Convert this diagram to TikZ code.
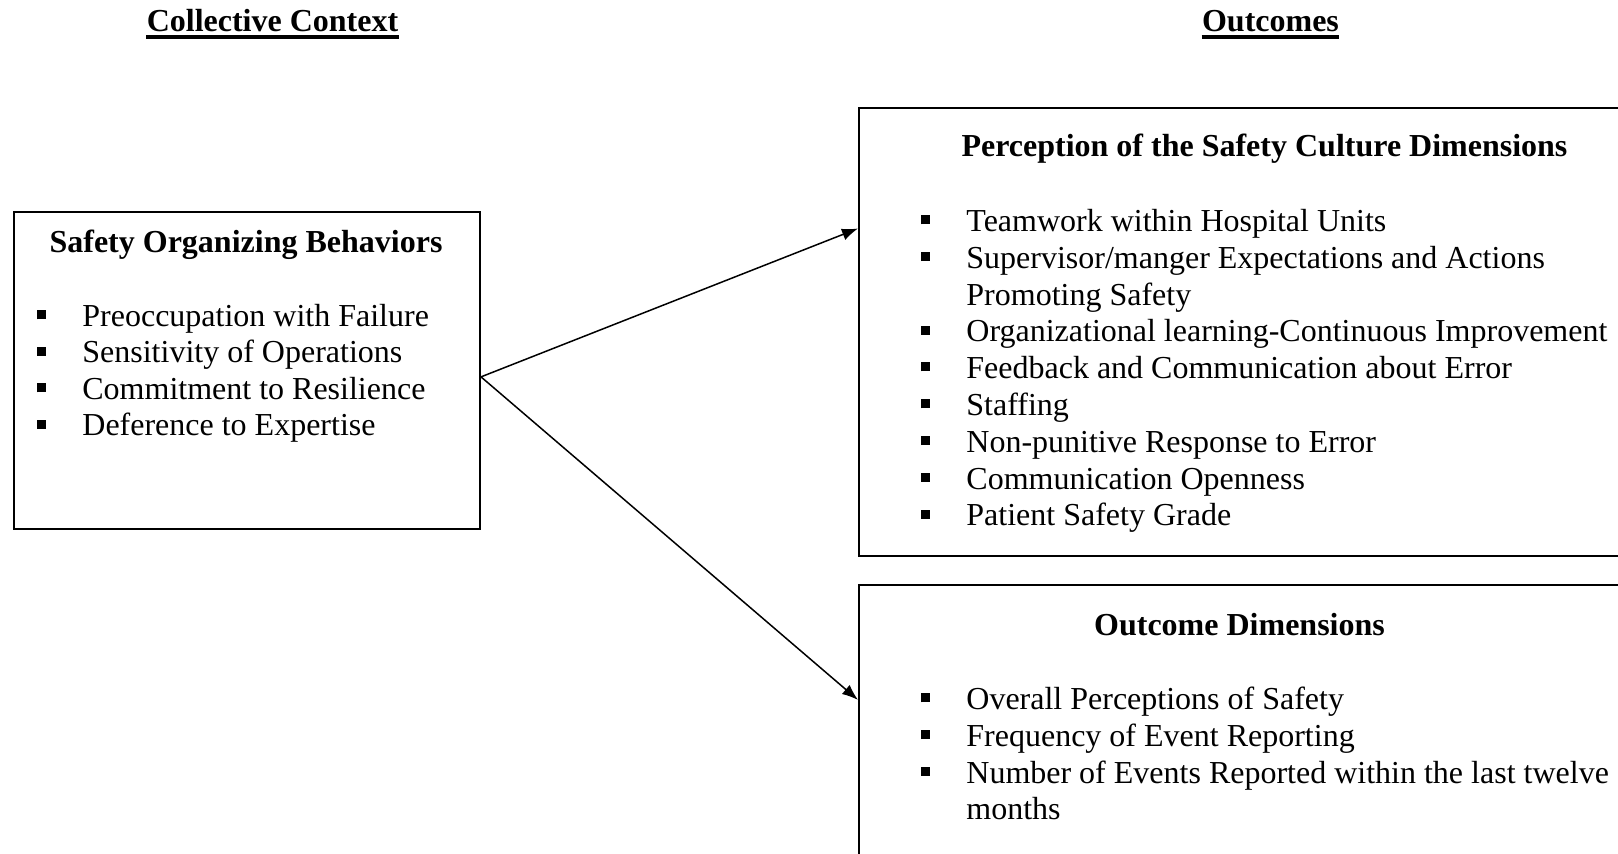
\documentclass[tikz,border=0pt]{standalone}
\usepackage{fontspec}
\setmainfont{Liberation Serif}
\usetikzlibrary{calc,arrows.meta}
\newcommand\bulsq{\makebox[22.5pt][l]{\raisebox{3.6pt}{\rule{4.5pt}{4.5pt}}}}
\begin{document}
\begin{tikzpicture}[x=0.5pt,y=-0.5pt,
  box/.style={draw, line width=1pt, inner sep=0pt, anchor=north west},
  txt/.style={anchor=base west, inner sep=0pt, font=\fontsize{16pt}{18.4pt}\selectfont},
  ttl/.style={anchor=base, inner sep=0pt, font=\fontsize{16pt}{18.4pt}\selectfont\bfseries},
  conn/.style={-{Latex[length=8pt,width=6pt]}, line width=0.75pt},
  uline/.style={line width=2pt}]
\useasboundingbox (0,0) rectangle (1618,854);
\clip (0,0) rectangle (1618,854);
% headers
\node[ttl] (hcc) at (272.5,32) {Collective Context};
\node[ttl] (hout) at (1270.5,32) {Outcomes};
\draw[uline] ([yshift=-2.4pt]hcc.base west) -- ([yshift=-2.4pt]hcc.base east);
\draw[uline] ([yshift=-2.4pt]hout.base west) -- ([yshift=-2.4pt]hout.base east);
% boxes
\node[box, minimum width=233pt, minimum height=158.5pt] (sob) at (13,211) {};
\node[box, minimum width=400pt, minimum height=224pt] (pscd) at (858,107) {};
\node[box, minimum width=400pt, minimum height=160pt] (od) at (858,584) {};
% left box text
\node[ttl] (sobt) at (246,253) {Safety Organizing Behaviors};
\node[txt] (s1) at (37,326.5) {\bulsq Preoccupation with Failure};
\node[txt] (s2) at (37,363) {\bulsq Sensitivity of Operations};
\node[txt] (s3) at (37,399.5) {\bulsq Commitment to Resilience};
\node[txt] (s4) at (37,436) {\bulsq Deference to Expertise};
% top right box text
\node[ttl] (pscdt) at (1264.5,157) {Perception of the Safety Culture Dimensions};
\node[txt] (p1) at (921,231.5) {\bulsq Teamwork within Hospital Units};
\node[txt] (p2) at (921,268.3) {\bulsq Supervisor/manger Expectations and Actions};
\node[txt] (p2b) at (966,305.1) {Promoting Safety};
\node[txt] (p3) at (921,341.9) {\bulsq Organizational learning-Continuous Improvement};
\node[txt] (p4) at (921,378.7) {\bulsq Feedback and Communication about Error};
\node[txt] (p5) at (921,415.5) {\bulsq Staffing};
\node[txt] (p6) at (921,452.3) {\bulsq Non-punitive Response to Error};
\node[txt] (p7) at (921,489.1) {\bulsq Communication Openness};
\node[txt] (p8) at (921,525.9) {\bulsq Patient Safety Grade};
% bottom right box text
\node[ttl] (odt) at (1239.5,635.5) {Outcome Dimensions};
\node[txt] (o1) at (921,709.5) {\bulsq Overall Perceptions of Safety};
\node[txt] (o2) at (921,746.3) {\bulsq Frequency of Event Reporting};
\node[txt] (o3) at (921,783.1) {\bulsq Number of Events Reported within the last twelve};
\node[txt] (o3b) at (966,819.9) {months};
% connectors
\draw[conn] ($(sob.north east)!0.52!(sob.south east)$) -- ($(pscd.north west)!0.27!(pscd.south west)$);
\draw[conn] ($(sob.north east)!0.52!(sob.south east)$) -- ($(od.north west)!0.36!(od.south west)$);
\end{tikzpicture}
\end{document}
